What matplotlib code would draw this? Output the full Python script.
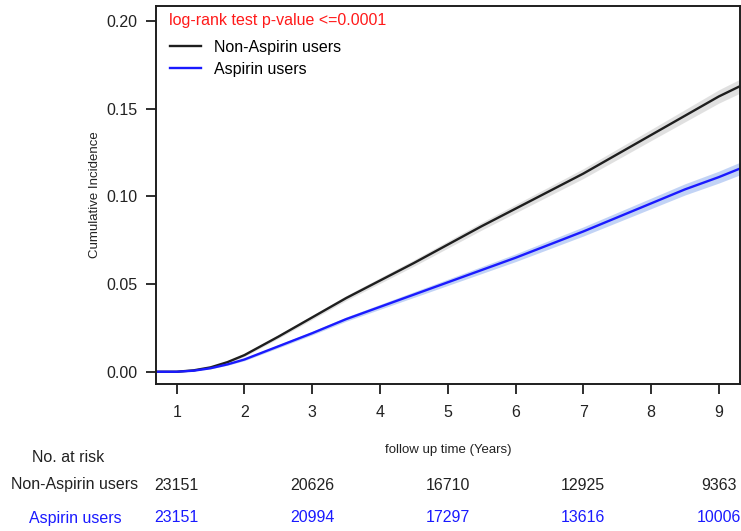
import numpy as np
import matplotlib.pyplot as plt
import matplotlib.transforms as mtransforms

plt.rcParams['font.family'] = ['Liberation Sans', 'DejaVu Sans']

# follow-up time grid (years) and cumulative incidence
years = [0.69, 1.0, 1.25, 1.5, 1.75, 2.0, 2.5, 3.0, 3.5, 4.0, 4.5, 5.0,
         5.5, 6.0, 6.5, 7.0, 7.5, 8.0, 8.5, 9.0, 9.32]
non_aspirin = [0.0, 0.0, 0.0008, 0.0025, 0.0055, 0.0095, 0.020, 0.031, 0.042, 0.052, 0.062,
               0.0725, 0.083, 0.093, 0.103, 0.113, 0.124, 0.135, 0.146, 0.157, 0.163]
aspirin = [0.0, 0.0, 0.0006, 0.002, 0.0042, 0.007, 0.0145, 0.022, 0.030, 0.037, 0.044,
           0.051, 0.058, 0.065, 0.0725, 0.080, 0.088, 0.096, 0.104, 0.111, 0.116]
# half width of the confidence bands
non_aspirin_ci = [0.0, 0.0, 0.0002, 0.0004, 0.0006, 0.0008, 0.001, 0.0012, 0.0014, 0.0016, 0.0018,
                  0.002, 0.0022, 0.0024, 0.0026, 0.0028, 0.003, 0.0032, 0.0035, 0.0038, 0.004]
aspirin_ci = [0.0, 0.0, 0.0002, 0.0003, 0.0005, 0.0007, 0.0009, 0.001, 0.0012, 0.0014, 0.0016,
              0.0018, 0.002, 0.0022, 0.0024, 0.0026, 0.0028, 0.003, 0.0032, 0.0034, 0.0036]

risk_years = [1, 3, 5, 7, 9]
risk_non_aspirin = ['23151', '20626', '16710', '12925', '9363']
risk_aspirin = ['23151', '20994', '17297', '13616', '10006']

BLACK = '#1e1e1e'
BLUE = '#1a1aff'

fig = plt.figure(figsize=(7.41, 5.31), dpi=100)
ax = fig.add_axes([0.2101, 0.2768, 0.9993 - 0.2101, 0.9887 - 0.2768])

t = np.array(years)
na = np.array(non_aspirin)
a = np.array(aspirin)
ax.fill_between(t, na - np.array(non_aspirin_ci), na + np.array(non_aspirin_ci),
                color='#d4d4d4', alpha=0.7, lw=0)
ax.fill_between(t, a - np.array(aspirin_ci), a + np.array(aspirin_ci),
                color='#a9c1f2', alpha=0.7, lw=0)
ax.plot(t, na, color=BLACK, lw=1.7, label='Non-Aspirin users')
ax.plot(t, a, color=BLUE, lw=1.7, label='Aspirin users')

ax.set_xlim(0.69, 9.32)
ax.set_ylim(-0.0070, 0.2086)
ax.set_xticks(range(1, 10))
ax.set_yticks([0.0, 0.05, 0.10, 0.15, 0.20])
ax.set_yticklabels(['0.00', '0.05', '0.10', '0.15', '0.20'])
ax.tick_params(axis='both', length=7, width=1.3, labelsize=11.5, color=BLACK, labelcolor='#222222')
ax.tick_params(axis='x', pad=8)
ax.tick_params(axis='y', pad=6)
for s in ax.spines.values():
    s.set_linewidth(1.4)
    s.set_color(BLACK)

ax.set_ylabel('Cumulative Incidence', fontsize=9.5, color='#222222', labelpad=4)

ax.text(0.023, 0.982, 'log-rank test p-value <=0.0001', transform=ax.transAxes,
        color='#ff1a1a', fontsize=11.5, va='top', ha='left')
ax.legend(loc='upper left', bbox_to_anchor=(0.005, 0.94), frameon=False, fontsize=11.5,
          handlelength=1.95, handletextpad=0.8, labelspacing=0.42, borderaxespad=0.3)

# number at risk table below the plot
fig.text(448 / 741, 1 - 450 / 531, 'follow up time (Years)', fontsize=9.5,
         ha='center', va='center', color='#222222')
fig.text(68 / 741, 1 - 458 / 531, 'No. at risk', fontsize=11.5, ha='center', va='center', color='#222222')
fig.text(75 / 741, 1 - 485 / 531, 'Non-Aspirin users', fontsize=11.5, ha='center', va='center', color='#222222')
fig.text(75 / 741, 1 - 518 / 531, 'Aspirin users', fontsize=11.5, ha='center', va='center', color=BLUE)

trans = mtransforms.blended_transform_factory(ax.transData, fig.transFigure)
for yr, n1, n2 in zip(risk_years, risk_non_aspirin, risk_aspirin):
    ax.text(yr, 1 - 485 / 531, n1, transform=trans, fontsize=11.5, ha='center', va='center',
            color='#222222', clip_on=False)
    ax.text(yr, 1 - 518 / 531, n2, transform=trans, fontsize=11.5, ha='center', va='center',
            color=BLUE, clip_on=False)

fig.savefig('out.png', dpi=100)
